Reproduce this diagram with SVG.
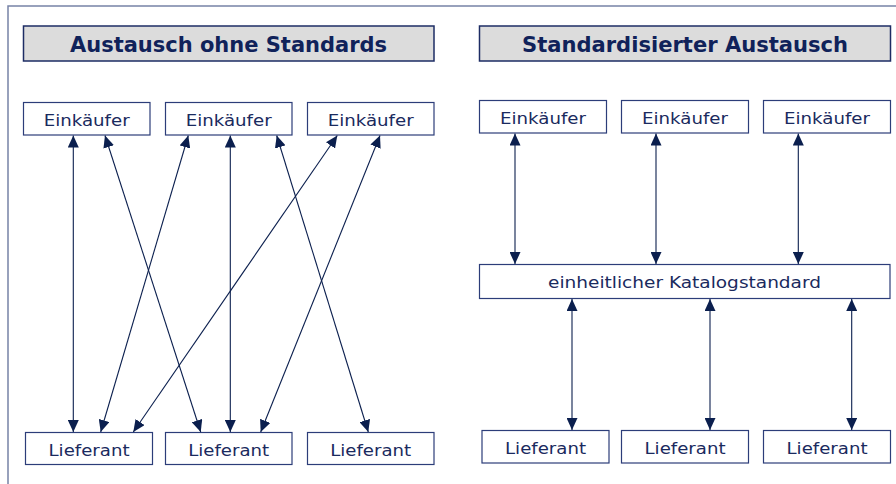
<svg xmlns="http://www.w3.org/2000/svg" width="896" height="484" viewBox="0 0 896 484">
  <defs>
    <marker id="head" viewBox="0 0 12 11" markerWidth="12" markerHeight="11" refX="12" refY="5.5" orient="auto-start-reverse" markerUnits="userSpaceOnUse">
      <path d="M0,0 L12,5.5 L0,11 z" fill="#0b1f4e"/>
    </marker>
    <style>
      .frame { stroke: #7783a6; stroke-width: 1.5; fill: none; }
      .title rect { fill: #dcdcdc; stroke: #1d2c64; stroke-width: 1.5; }
      .title text { font-family: "DejaVu Sans", Verdana, sans-serif; font-weight: bold; font-size: 21px; fill: #10225a; text-anchor: middle; }
      .node rect { fill: #ffffff; stroke: #2c3d79; stroke-width: 1.2; }
      .node text { font-family: "DejaVu Sans", Verdana, sans-serif; font-size: 16.5px; fill: #1a2a5e; text-anchor: middle; }
      .conn line { stroke: #0b1f4e; stroke-width: 1.1; marker-start: url(#head); marker-end: url(#head); }
    </style>
  </defs>
  <rect width="896" height="484" fill="#ffffff"/>

  <!-- outer frame -->
  <path class="frame" d="M8,484 V6 H896"/>

  <!-- section headings -->
  <g id="title-left" class="title">
    <rect x="23.5" y="26" width="410.5" height="35"/>
    <text x="228.5" y="52" textLength="317" lengthAdjust="spacingAndGlyphs">Austausch ohne Standards</text>
  </g>
  <g id="title-right" class="title">
    <rect x="479.5" y="26" width="411" height="35"/>
    <text x="685" y="51.5" textLength="326" lengthAdjust="spacingAndGlyphs">Standardisierter Austausch</text>
  </g>

  <!-- left: buyers -->
  <g id="l-buyer-1" class="node">
    <rect x="23.5" y="102.5" width="126.5" height="32.5"/>
    <text x="86.7" y="126" textLength="86" lengthAdjust="spacingAndGlyphs">Einkäufer</text>
  </g>
  <g id="l-buyer-2" class="node">
    <rect x="165.5" y="102.5" width="126.5" height="32.5"/>
    <text x="228.7" y="126" textLength="86" lengthAdjust="spacingAndGlyphs">Einkäufer</text>
  </g>
  <g id="l-buyer-3" class="node">
    <rect x="307.5" y="102.5" width="126.5" height="32.5"/>
    <text x="370.7" y="126" textLength="86" lengthAdjust="spacingAndGlyphs">Einkäufer</text>
  </g>

  <!-- left: suppliers -->
  <g id="l-supplier-1" class="node">
    <rect x="25.5" y="432.5" width="127" height="32"/>
    <text x="89" y="456" textLength="81" lengthAdjust="spacingAndGlyphs">Lieferant</text>
  </g>
  <g id="l-supplier-2" class="node">
    <rect x="165.5" y="432.5" width="126.5" height="32"/>
    <text x="228.7" y="456" textLength="81" lengthAdjust="spacingAndGlyphs">Lieferant</text>
  </g>
  <g id="l-supplier-3" class="node">
    <rect x="307.5" y="432.5" width="126.5" height="32"/>
    <text x="370.7" y="456" textLength="81" lengthAdjust="spacingAndGlyphs">Lieferant</text>
  </g>

  <!-- right: buyers -->
  <g id="r-buyer-1" class="node">
    <rect x="479.5" y="100.5" width="127" height="32.5"/>
    <text x="543" y="124" textLength="86" lengthAdjust="spacingAndGlyphs">Einkäufer</text>
  </g>
  <g id="r-buyer-2" class="node">
    <rect x="621.5" y="100.5" width="127" height="32.5"/>
    <text x="685" y="124" textLength="86" lengthAdjust="spacingAndGlyphs">Einkäufer</text>
  </g>
  <g id="r-buyer-3" class="node">
    <rect x="763.5" y="100.5" width="127" height="32.5"/>
    <text x="827" y="124" textLength="86" lengthAdjust="spacingAndGlyphs">Einkäufer</text>
  </g>

  <!-- right: common catalogue standard -->
  <g id="r-standard" class="node">
    <rect x="479.5" y="264.5" width="410.5" height="34"/>
    <text x="684.5" y="288.3" textLength="273" lengthAdjust="spacingAndGlyphs">einheitlicher Katalogstandard</text>
  </g>

  <!-- right: suppliers -->
  <g id="r-supplier-1" class="node">
    <rect x="482" y="430.5" width="127" height="32.5"/>
    <text x="545.5" y="454" textLength="81" lengthAdjust="spacingAndGlyphs">Lieferant</text>
  </g>
  <g id="r-supplier-2" class="node">
    <rect x="621.5" y="430.5" width="127" height="32.5"/>
    <text x="685" y="454" textLength="81" lengthAdjust="spacingAndGlyphs">Lieferant</text>
  </g>
  <g id="r-supplier-3" class="node">
    <rect x="763.5" y="430.5" width="127" height="32.5"/>
    <text x="827" y="454" textLength="81" lengthAdjust="spacingAndGlyphs">Lieferant</text>
  </g>

  <!-- connectors -->
  <g id="connectors" class="conn">
    <!-- point-to-point links without a standard -->
    <line x1="73.3" y1="135.5" x2="73.3" y2="432"/>
    <line x1="105" y1="135.5" x2="200.7" y2="432"/>
    <line x1="188.3" y1="135.5" x2="100.7" y2="432"/>
    <line x1="230.3" y1="135.5" x2="230.3" y2="432"/>
    <line x1="276.7" y1="135.5" x2="368.3" y2="432"/>
    <line x1="337.3" y1="135.5" x2="133.3" y2="432"/>
    <line x1="380" y1="135.5" x2="260.7" y2="432"/>

    <!-- buyers to the standard -->
    <line x1="515" y1="133.5" x2="515" y2="264"/>
    <line x1="656" y1="133.5" x2="656" y2="264"/>
    <line x1="798.3" y1="133.5" x2="798.3" y2="264"/>

    <!-- standard to suppliers -->
    <line x1="572" y1="299" x2="572" y2="430"/>
    <line x1="710" y1="299" x2="710" y2="430"/>
    <line x1="851.7" y1="299" x2="851.7" y2="430"/>
  </g>
</svg>
